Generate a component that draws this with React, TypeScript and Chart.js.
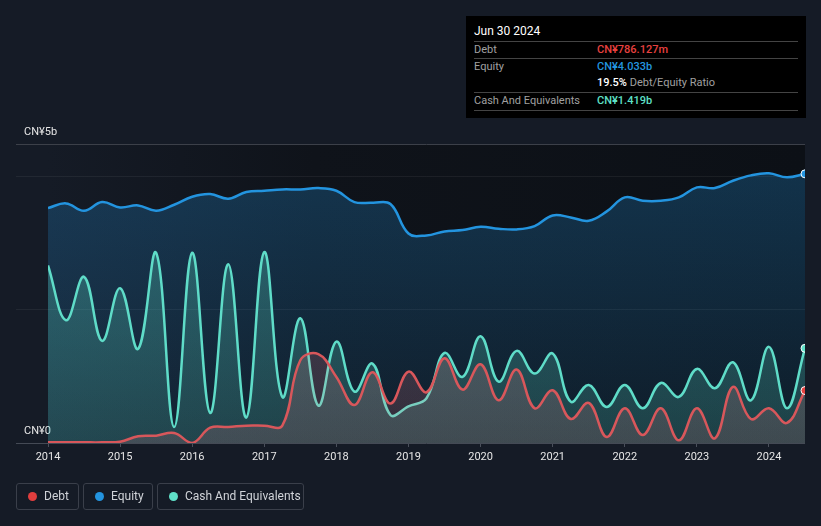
import { useEffect, useRef } from "react";
import { Chart, registerables } from "chart.js";

Chart.register(...registerables);

// ---- data ----
const quarterEnds: number[] = [
  2014.0, 2014.25, 2014.5, 2014.75,
  2015.0, 2015.25, 2015.5, 2015.75,
  2016.0, 2016.25, 2016.5, 2016.75,
  2017.0, 2017.25, 2017.5, 2017.75,
  2018.0, 2018.25, 2018.5, 2018.75,
  2019.0, 2019.25, 2019.5, 2019.75,
  2020.0, 2020.25, 2020.5, 2020.75,
  2021.0, 2021.25, 2021.5, 2021.75,
  2022.0, 2022.25, 2022.5, 2022.75,
  2023.0, 2023.25, 2023.5, 2023.75,
  2024.0, 2024.25, 2024.5,
];

// CN¥ billions
const debt: number[] = [
  0.01, 0.01, 0.01, 0.01,
  0.02, 0.10, 0.11, 0.15,
  0.00, 0.23, 0.24, 0.26,
  0.26, 0.26, 1.24, 1.33,
  0.99, 0.57, 1.06, 0.59,
  1.07, 0.76, 1.27, 0.80,
  1.18, 0.64, 1.10, 0.52,
  0.79, 0.36, 0.60, 0.09,
  0.52, 0.12, 0.52, 0.04,
  0.52, 0.07, 0.84, 0.36,
  0.52, 0.30, 0.786,
];

const equity: number[] = [
  3.52, 3.59, 3.48, 3.61,
  3.53, 3.56, 3.48, 3.57,
  3.69, 3.73, 3.66, 3.76,
  3.78, 3.80, 3.80, 3.82,
  3.78, 3.61, 3.60, 3.58,
  3.14, 3.11, 3.17, 3.19,
  3.24, 3.21, 3.20, 3.25,
  3.41, 3.38, 3.33, 3.47,
  3.68, 3.63, 3.63, 3.68,
  3.83, 3.82, 3.93, 4.01,
  4.04, 3.98, 4.033,
];

const cash: number[] = [
  2.66, 1.84, 2.49, 1.53,
  2.32, 1.41, 2.85, 0.24,
  2.85, 0.45, 2.68, 0.38,
  2.86, 0.69, 1.87, 0.56,
  1.52, 0.77, 1.19, 0.42,
  0.55, 0.67, 1.35, 0.99,
  1.60, 0.92, 1.38, 1.04,
  1.34, 0.62, 0.87, 0.54,
  0.87, 0.52, 0.90, 0.69,
  1.11, 0.82, 1.21, 0.64,
  1.44, 0.52, 1.419,
];

const yearTicks: number[] = [2014, 2015, 2016, 2017, 2018, 2019, 2020, 2021, 2022, 2023, 2024];
const yGridValues: number[] = [0, 2, 4];
const yTop = 4.48;
const yBottomLabel = "CN¥0";
const yTopLabel = "CN¥5b";

const tooltipTitle = "Jun 30 2024";
const tipDebt = "CN¥786.127m";
const tipEquity = "CN¥4.033b";
const tipRatio = "19.5%";
const tipCash = "CN¥1.419b";

const legendItems = [
  { label: "Debt", color: "#e03e3e", left: 16, width: 63 },
  { label: "Equity", color: "#2394df", left: 83, width: 70 },
  { label: "Cash And Equivalents", color: "#5fe0c8", left: 157, width: 147 },
];

const FONT = "Roboto, 'Noto Sans', sans-serif";

function vGrad(chart: any, top: string, bottom: string) {
  const area = chart.chartArea;
  if (!area) return top;
  const g = chart.ctx.createLinearGradient(0, area.top, 0, area.bottom);
  g.addColorStop(0, top);
  g.addColorStop(1, bottom);
  return g;
}

const bgPlugin = {
  id: "plotBg",
  beforeDraw(chart: any) {
    const { ctx, chartArea } = chart;
    if (!chartArea) return;
    const g = ctx.createLinearGradient(chartArea.left, 0, chartArea.right, 0);
    g.addColorStop(0, "rgba(21,27,38,1)");
    g.addColorStop(0.35, "rgba(15,19,26,1)");
    g.addColorStop(1, "rgba(12,16,22,1)");
    ctx.save();
    ctx.fillStyle = g;
    ctx.fillRect(chartArea.left, chartArea.top, chartArea.right - chartArea.left, chartArea.bottom - chartArea.top);
    ctx.restore();
  },
};

export default function App() {
  const ref = useRef<HTMLCanvasElement | null>(null);

  useEffect(() => {
    if (!ref.current) return;
    const last = quarterEnds.length - 1;
    const pts = (arr: number[]) => quarterEnds.map((x, i) => ({ x, y: arr[i] }));
    const common = {
      fill: "origin",
      borderWidth: 2.5,
      tension: 0.4,
      pointRadius: (c: any) => (c.dataIndex === last ? 4 : 0),
      pointBorderColor: "#ffffff",
      pointBorderWidth: 1,
      pointHoverRadius: 0,
    };
    const chart = new Chart(ref.current, {
      type: "line",
      data: {
        datasets: [
          {
            ...common,
            label: "Debt",
            data: pts(debt),
            borderColor: "#d8575b",
            pointBackgroundColor: "#e8413f",
            backgroundColor: (c: any) => vGrad(c.chart, "rgba(255,130,140,0.22)", "rgba(255,130,140,0.15)"),
          } as any,
          {
            ...common,
            label: "Cash And Equivalents",
            data: pts(cash),
            borderColor: "#5fdcc8",
            pointBackgroundColor: "#5fe0c8",
            backgroundColor: (c: any) => vGrad(c.chart, "rgba(94,224,200,0.32)", "rgba(94,224,200,0.18)"),
          } as any,
          {
            ...common,
            label: "Equity",
            data: pts(equity),
            borderColor: "#2394df",
            pointBackgroundColor: "#2394df",
            backgroundColor: (c: any) => vGrad(c.chart, "rgba(35,148,223,0.28)", "rgba(35,148,223,0.09)"),
          } as any,
        ],
      },
      options: {
        animation: false,
        responsive: false,
        events: [],
        layout: { padding: { left: 24, right: 16, top: 144, bottom: 0 } },
        plugins: {
          legend: { display: false },
          tooltip: { enabled: false },
        },
        scales: {
          x: {
            type: "linear",
            min: 2014,
            max: 2024.5,
            afterBuildTicks: (s: any) => {
              s.ticks = yearTicks.map((v) => ({ value: v }));
            },
            afterFit: (s: any) => {
              s.height = 83;
            },
            grid: { drawOnChartArea: false, drawTicks: true, tickLength: 4, color: "#4a505b" },
            border: { display: false },
            ticks: {
              color: "#e6e6e6",
              font: { family: FONT, size: 11 },
              padding: 4,
              maxRotation: 0,
              autoSkip: false,
              callback: (v: any) => String(v),
            },
          },
          y: {
            type: "linear",
            min: 0,
            max: yTop,
            z: 1,
            afterBuildTicks: (s: any) => {
              s.ticks = [...yGridValues, yTop].map((v) => ({ value: v }));
            },
            afterFit: (s: any) => {
              s.width = 24;
            },
            grid: {
              drawTicks: true,
              tickLength: 32,
              lineWidth: 1,
              color: (c: any) =>
                c.tick && c.tick.value === 0
                  ? "#444a55"
                  : c.tick && c.tick.value === yTop
                  ? "#3c4049"
                  : "rgba(255,255,255,0.06)",
            },
            border: { display: false },
            ticks: {
              mirror: true,
              crossAlign: "near",
              padding: -24,
              labelOffset: -12,
              autoSkip: false,
              color: "#e6e6e6",
              font: { family: FONT, size: 11 },
              callback: (v: any) => (v === 0 ? yBottomLabel : v === yTop ? yTopLabel : ""),
            },
          },
        },
      } as any,
      plugins: [bgPlugin],
    });
    return () => chart.destroy();
  }, []);

  const rowLabel: React.CSSProperties = {
    position: "absolute",
    left: 8,
    color: "#a0a0a0",
    fontSize: 11,
    lineHeight: "16px",
    whiteSpace: "nowrap",
  };
  const rowValue: React.CSSProperties = {
    position: "absolute",
    left: 131,
    fontSize: 11,
    lineHeight: "16px",
    fontWeight: 500,
    whiteSpace: "nowrap",
  };
  const sep = (top: number) => (
    <div style={{ position: "absolute", left: 8, top, width: 324, height: 1, background: "#444" }} />
  );

  return (
    <div
      style={{
        position: "fixed",
        left: 0,
        top: 0,
        width: 821,
        height: 526,
        background: "#151b26",
        fontFamily: FONT,
        overflow: "hidden",
      }}
    >
      <canvas ref={ref} width={821} height={526} style={{ position: "absolute", left: 0, top: 0, width: 821, height: 526 }} />

      <div style={{ position: "absolute", left: 466, top: 16, width: 340, height: 102, background: "#000" }}>
        <div style={{ position: "absolute", left: 8, top: 8, color: "#fff", fontSize: 12, lineHeight: "14px", fontWeight: 400 }}>
          {tooltipTitle}
        </div>
        {sep(25)}
        <div style={{ ...rowLabel, top: 26 }}>Debt</div>
        <div style={{ ...rowValue, top: 26, color: "#e8413f" }}>{tipDebt}</div>
        {sep(42)}
        <div style={{ ...rowLabel, top: 43 }}>Equity</div>
        <div style={{ ...rowValue, top: 43, color: "#2394df" }}>{tipEquity}</div>
        <div style={{ ...rowValue, top: 59, color: "#ffffff" }}>
          {tipRatio} <span style={{ color: "#a0a0a0", fontWeight: 400 }}>Debt/Equity Ratio</span>
        </div>
        {sep(76)}
        <div style={{ ...rowLabel, top: 77 }}>Cash And Equivalents</div>
        <div style={{ ...rowValue, top: 77, color: "#5fe0c8" }}>{tipCash}</div>
        {sep(94)}
      </div>

      {legendItems.map((it) => (
        <div
          key={it.label}
          style={{
            position: "absolute",
            left: it.left,
            top: 483,
            width: it.width,
            height: 27,
            boxSizing: "border-box",
            border: "1px solid #3a3f4a",
            borderRadius: 3,
          }}
        >
          <div
            style={{
              position: "absolute",
              left: 11,
              top: 8,
              width: 9,
              height: 9,
              borderRadius: "50%",
              background: it.color,
            }}
          />
          <div
            style={{
              position: "absolute",
              left: 27,
              top: 0,
              lineHeight: "25px",
              fontSize: 12,
              color: "#d0d3d8",
              whiteSpace: "nowrap",
            }}
          >
            {it.label}
          </div>
        </div>
      ))}
    </div>
  );
}
